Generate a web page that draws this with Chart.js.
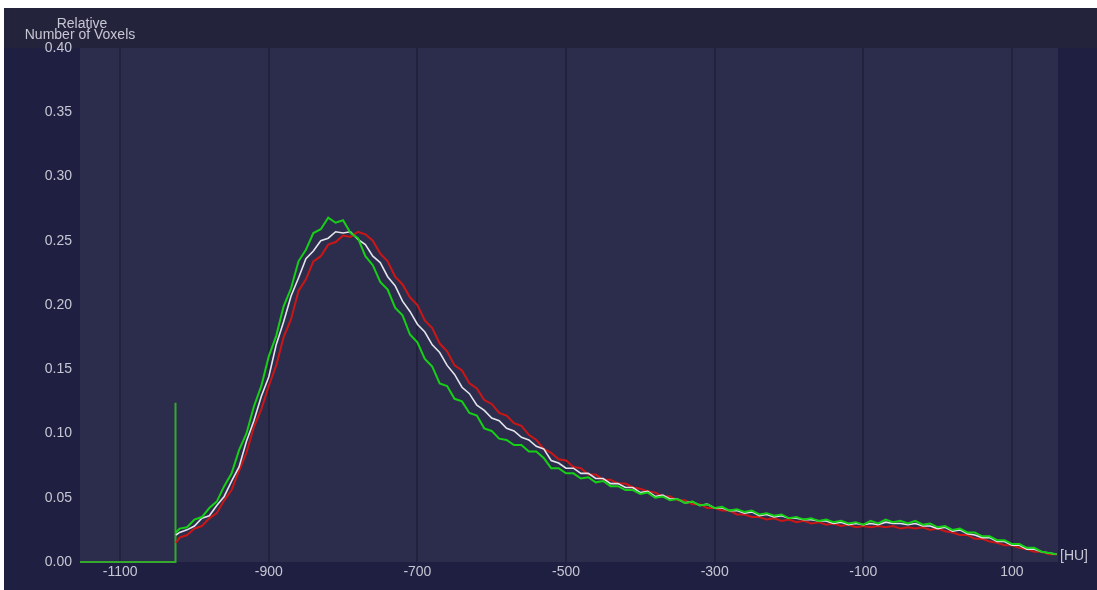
<!DOCTYPE html>
<html>
<head>
<meta charset="utf-8">
<script src="https://cdn.jsdelivr.net/npm/chart.js@4/dist/chart.umd.min.js"></script>
<style>
  html, body { margin: 0; padding: 0; background: #fff; }
  #wrap { width: 1097px; height: 590px; }
</style>
</head>
<body>
<div id="wrap"><canvas id="hist"></canvas></div>
<script>
// HU bins (x axis)
const hu = [
  -1025,
  -1020, -1010, -1000, -990, -980, -970, -960, -950, -940, -930,
  -920, -910, -900, -890, -880, -870, -860, -850, -840, -830,
  -820, -810, -800, -790, -780, -770, -760, -750, -740, -730,
  -720, -710, -700, -690, -680, -670, -660, -650, -640, -630,
  -620, -610, -600, -590, -580, -570, -560, -550, -540, -530,
  -520, -510, -500, -490, -480, -470, -460, -450, -440, -430,
  -420, -410, -400, -390, -380, -370, -360, -350, -340, -330,
  -320, -310, -300, -290, -280, -270, -260, -250, -240, -230,
  -220, -210, -200, -190, -180, -170, -160, -150, -140, -130,
  -120, -110, -100, -90, -80, -70, -60, -50, -40, -30,
  -20, -10, 0, 10, 20, 30, 40, 50, 60, 70,
  80, 90, 100, 110, 120, 130, 140, 150, 160
];

const greenVals = [
  0.023,
  0.026, 0.027, 0.033, 0.035, 0.042, 0.047, 0.059, 0.069, 0.087, 0.100,
  0.121, 0.137, 0.160, 0.176, 0.199, 0.213, 0.234, 0.243, 0.256, 0.259,
  0.268, 0.264, 0.266, 0.256, 0.252, 0.238, 0.231, 0.218, 0.212, 0.198,
  0.192, 0.177, 0.171, 0.158, 0.152, 0.139, 0.137, 0.127, 0.125, 0.116,
  0.114, 0.104, 0.102, 0.096, 0.095, 0.091, 0.091, 0.086, 0.086, 0.081,
  0.073, 0.073, 0.069, 0.069, 0.065, 0.066, 0.062, 0.063, 0.059, 0.059,
  0.056, 0.056, 0.053, 0.054, 0.050, 0.051, 0.048, 0.049, 0.046, 0.047,
  0.044, 0.045, 0.042, 0.043, 0.040, 0.041, 0.039, 0.040, 0.037, 0.038,
  0.036, 0.037, 0.034, 0.035, 0.033, 0.034, 0.032, 0.033, 0.031, 0.032,
  0.030, 0.031, 0.029, 0.032, 0.030, 0.033, 0.031, 0.032, 0.030, 0.032,
  0.029, 0.030, 0.027, 0.028, 0.025, 0.026, 0.023, 0.023, 0.020, 0.020,
  0.017, 0.017, 0.014, 0.014, 0.011, 0.011, 0.008, 0.007, 0.006
];

const whiteVals = [
  0.021,
  0.023, 0.025, 0.028, 0.034, 0.036, 0.044, 0.051, 0.063, 0.074, 0.094,
  0.110, 0.129, 0.144, 0.169, 0.187, 0.207, 0.221, 0.236, 0.242, 0.250,
  0.252, 0.257, 0.256, 0.257, 0.251, 0.247, 0.238, 0.233, 0.222, 0.215,
  0.203, 0.195, 0.185, 0.179, 0.169, 0.163, 0.153, 0.146, 0.136, 0.131,
  0.122, 0.118, 0.112, 0.110, 0.104, 0.102, 0.097, 0.095, 0.090, 0.088,
  0.079, 0.077, 0.073, 0.073, 0.069, 0.069, 0.065, 0.065, 0.061, 0.061,
  0.058, 0.058, 0.054, 0.055, 0.051, 0.052, 0.049, 0.049, 0.046, 0.047,
  0.044, 0.045, 0.042, 0.042, 0.040, 0.040, 0.038, 0.039, 0.036, 0.037,
  0.035, 0.036, 0.034, 0.034, 0.033, 0.033, 0.032, 0.032, 0.030, 0.031,
  0.029, 0.030, 0.029, 0.030, 0.029, 0.031, 0.030, 0.030, 0.029, 0.030,
  0.028, 0.028, 0.026, 0.027, 0.024, 0.025, 0.022, 0.021, 0.019, 0.019,
  0.016, 0.016, 0.013, 0.013, 0.010, 0.010, 0.008, 0.007, 0.006
];

const redVals = [
  0.015,
  0.019, 0.021, 0.026, 0.028, 0.034, 0.038, 0.048, 0.056, 0.071, 0.085,
  0.105, 0.119, 0.137, 0.153, 0.175, 0.189, 0.211, 0.220, 0.234, 0.238,
  0.247, 0.249, 0.254, 0.253, 0.257, 0.255, 0.250, 0.240, 0.234, 0.222,
  0.216, 0.206, 0.200, 0.188, 0.182, 0.170, 0.164, 0.153, 0.149, 0.139,
  0.135, 0.126, 0.123, 0.116, 0.114, 0.108, 0.106, 0.099, 0.095, 0.088,
  0.085, 0.080, 0.079, 0.074, 0.073, 0.068, 0.068, 0.064, 0.064, 0.061,
  0.061, 0.058, 0.057, 0.055, 0.054, 0.051, 0.051, 0.048, 0.048, 0.045,
  0.045, 0.042, 0.042, 0.040, 0.040, 0.037, 0.037, 0.035, 0.035, 0.033,
  0.034, 0.032, 0.033, 0.031, 0.032, 0.030, 0.031, 0.029, 0.030, 0.028,
  0.029, 0.027, 0.028, 0.027, 0.028, 0.027, 0.028, 0.026, 0.027, 0.026,
  0.027, 0.025, 0.026, 0.024, 0.023, 0.021, 0.021, 0.018, 0.018, 0.016,
  0.015, 0.013, 0.013, 0.011, 0.010, 0.008, 0.008, 0.006, 0.006
];

// green background bins + the spike at the lower threshold
const spikeHu = [-1154, -1026, -1026, -1025];
const spikeVals = [0, 0, 0.124, 0.023];

const xTicks = [-1100, -900, -700, -500, -300, -100, 100];
const yTicks = [0, 0.05, 0.10, 0.15, 0.20, 0.25, 0.30, 0.35, 0.40];

const TEXT = '#c6c6d4';
const FONT = "'Liberation Sans', Arial, sans-serif";

function pts(xs, ys) {
  return xs.map((x, i) => ({ x: x, y: ys[i] }));
}

const framePlugin = {
  id: 'frame',
  beforeDraw(chart) {
    const { ctx, chartArea: a, width, height } = chart;
    ctx.save();
    ctx.fillStyle = '#ffffff';
    ctx.fillRect(0, 0, width, height);
    ctx.fillStyle = '#1f1f41';
    ctx.fillRect(4, 8, width - 4, height - 8);
    ctx.fillStyle = '#24233c';
    ctx.fillRect(4, 8, width - 4, a.top - 8);
    ctx.fillStyle = '#2c2d4c';
    ctx.fillRect(a.left, a.top, a.right - a.left, a.bottom - a.top);
    ctx.restore();
  },
  afterDraw(chart) {
    const { ctx, chartArea: a } = chart;
    ctx.save();
    ctx.fillStyle = TEXT;
    ctx.font = '14px ' + FONT;
    ctx.textAlign = 'center';
    ctx.textBaseline = 'alphabetic';
    ctx.fillText('Relative', a.left + 2, 28);
    ctx.fillText('Number of Voxels', a.left, 39);
    ctx.textAlign = 'left';
    ctx.textBaseline = 'middle';
    ctx.fillText('[HU]', a.right + 2, a.bottom - 6);
    ctx.restore();
  }
};

const ctx = document.getElementById('hist').getContext('2d');
const chart = new Chart(ctx, {
  type: 'line',
  data: {
    datasets: [
      {
        data: pts(hu, greenVals),
        borderColor: '#16d016',
        borderWidth: 2
      },
      {
        data: pts(hu, whiteVals),
        borderColor: '#e4e4ec',
        borderWidth: 1.6
      },
      {
        data: pts(hu, redVals),
        borderColor: '#cc1616',
        borderWidth: 2
      },
      {
        data: pts(spikeHu, spikeVals),
        borderColor: '#36a82e',
        borderWidth: 2,
        clip: 4
      }
    ]
  },
  options: {
    responsive: true,
    maintainAspectRatio: false,
    animation: false,
    elements: {
      point: { radius: 0 },
      line: { tension: 0 }
    },
    layout: {
      padding: { left: 0, top: 48, right: 39, bottom: 0 }
    },
    plugins: {
      legend: { display: false },
      tooltip: { enabled: false }
    },
    scales: {
      x: {
        type: 'linear',
        min: -1154,
        max: 162,
        afterFit: s => { s.height = 28; },
        afterBuildTicks: s => { s.ticks = xTicks.map(v => ({ value: v })); },
        grid: { color: '#22223c', lineWidth: 2, drawTicks: false },
        border: { display: false },
        ticks: {
          color: TEXT,
          font: { family: FONT, size: 14 },
          padding: 2,
          maxRotation: 0,
          autoSkip: false,
          callback: v => String(v)
        }
      },
      y: {
        min: 0,
        max: 0.4,
        afterFit: s => { s.width = 80; },
        afterBuildTicks: s => { s.ticks = yTicks.map(v => ({ value: v })); },
        grid: { display: false, drawTicks: false },
        border: { display: false },
        ticks: {
          color: TEXT,
          font: { family: FONT, size: 14 },
          padding: 8,
          callback: v => v.toFixed(2)
        }
      }
    }
  },
  plugins: [framePlugin]
});
</script>
</body>
</html>
